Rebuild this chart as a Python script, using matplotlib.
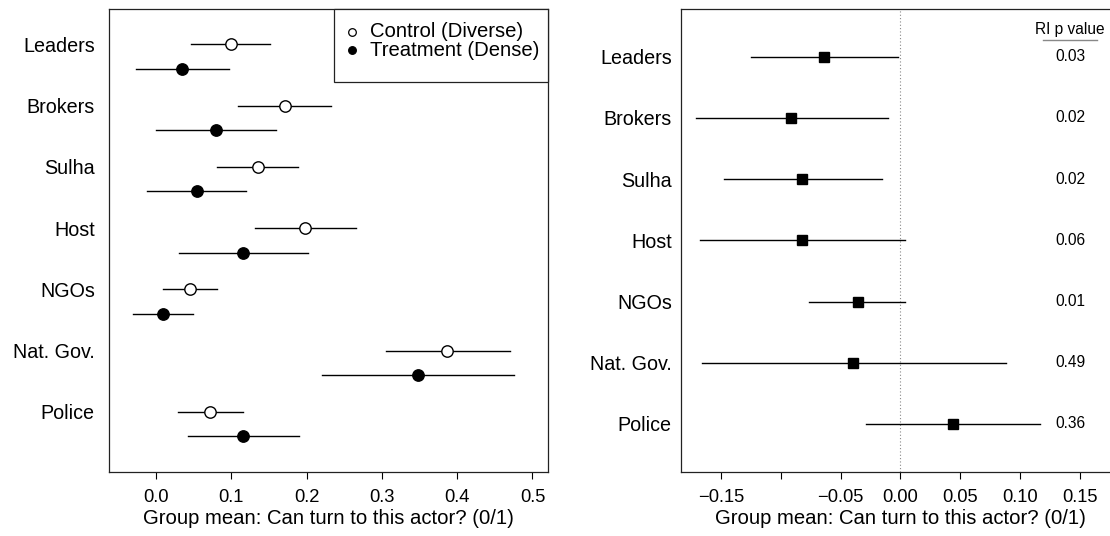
import matplotlib
matplotlib.use("Agg")
import matplotlib.pyplot as plt
from matplotlib.lines import Line2D
from matplotlib.patches import Rectangle
import numpy as np

plt.rcParams['font.family'] = ['Liberation Sans', 'DejaVu Sans']

categories = ["Leaders", "Brokers", "Sulha", "Host", "NGOs", "Nat. Gov.", "Police"]
ctrl_mean = [0.099, 0.171, 0.135, 0.198, 0.045, 0.387, 0.072]
ctrl_lo = [0.047, 0.109, 0.081, 0.131, 0.009, 0.305, 0.029]
ctrl_hi = [0.151, 0.233, 0.189, 0.266, 0.081, 0.470, 0.116]
treat_mean = [0.035, 0.080, 0.054, 0.116, 0.009, 0.348, 0.116]
treat_lo = [-0.026, 0.000, -0.012, 0.031, -0.031, 0.221, 0.043]
treat_hi = [0.097, 0.160, 0.120, 0.202, 0.049, 0.475, 0.190]
diff_mean = [-0.0635, -0.0911, -0.0819, -0.0819, -0.0356, -0.0393, 0.0443]
diff_lo = [-0.1248, -0.1708, -0.1474, -0.1677, -0.0761, -0.1660, -0.0287]
diff_hi = [-0.0017, -0.0105, -0.0156, 0.0039, 0.0039, 0.0881, 0.1170]
p_values = ["0.03", "0.02", "0.02", "0.06", "0.01", "0.49", "0.36"]
legend_labels = ["Control (Diverse)", "Treatment (Dense)"]
left_xticks = [0.0, 0.1, 0.2, 0.3, 0.4, 0.5]
left_xticklabels = ["0.0", "0.1", "0.2", "0.3", "0.4", "0.5"]
right_xticks = [-0.15, -0.10, -0.05, 0.0, 0.05, 0.10, 0.15]
right_xticklabels = ["\u22120.15", "", "\u22120.05", "0.00", "0.05", "0.10", "0.15"]
xlabel = "Group mean: Can turn to this actor? (0/1)"

W, H = 1110, 536
fig = plt.figure(figsize=(W / 100, H / 100), dpi=100)

def frac(x0, x1, ytop, ybot):
    return [x0 / W, 1 - ybot / H, (x1 - x0) / W, (ybot - ytop) / H]

def fx(px):
    return px / W

def fy(py):
    return 1 - py / H

ax1 = fig.add_axes(frac(109.3, 548.0, 9.0, 471.7))
ax2 = fig.add_axes(frac(681.0, 1119.6, 9.0, 471.7))

n = len(categories)
ypos = np.arange(n, 0, -1).astype(float)  # 7..1
off = 0.4

lw = 1.0
# Left panel
for i in range(n):
    ax1.plot([ctrl_lo[i], ctrl_hi[i]], [ypos[i], ypos[i]], color='black', lw=lw, zorder=2)
    ax1.plot([treat_lo[i], treat_hi[i]], [ypos[i] - off, ypos[i] - off], color='black', lw=lw, zorder=2)
ax1.plot(ctrl_mean, ypos, linestyle='none', marker='o', ms=8.2, mfc='white', mec='black', mew=1.0, zorder=3)
ax1.plot(treat_mean, ypos - off, linestyle='none', marker='o', ms=8.2, mfc='black', mec='black', mew=1.0, zorder=3)
ax1.set_xlim(-0.062, 0.5206)
ax1.set_ylim(0.02, 7.58)
ax1.set_xticks(left_xticks)
ax1.set_xticklabels(left_xticklabels)
ax1.set_yticks(ypos)
ax1.set_yticklabels(categories)
ax1.tick_params(axis='y', length=0, pad=10.4, labelsize=14.2)
ax1.tick_params(axis='x', length=5, width=0.8, pad=7.5, labelsize=13.2, direction='out')
ax1.set_xlabel(xlabel, fontsize=14.6, labelpad=2)
for s in ax1.spines.values():
    s.set_linewidth(0.9)
    s.set_color('#222222')

# Legend (boxed, top-right, flush with the axes corner)
fig.add_artist(Rectangle((fx(334.0), fy(81.7)), fx(548.0) - fx(334.0), fy(9.0) - fy(81.7),
                         transform=fig.transFigure, facecolor='white', edgecolor='#222222',
                         lw=0.9, zorder=5))
leg_rows = [31.7, 50.0]
leg_fill = ['white', 'black']
for row, fc, lab in zip(leg_rows, leg_fill, legend_labels):
    fig.add_artist(Line2D([fx(351.7)], [fy(row)], transform=fig.transFigure, linestyle='none',
                          marker='o', ms=5.5, mfc=fc, mec='black', mew=0.9, zorder=6))
    fig.text(fx(370.5), fy(row), lab, ha='left', va='center', fontsize=14.6, zorder=6)

# Right panel
ax2.axvline(0, color='#888888', lw=0.8, linestyle=(0, (1, 2)), zorder=1)
for i in range(n):
    ax2.plot([diff_lo[i], diff_hi[i]], [ypos[i], ypos[i]], color='black', lw=lw, zorder=2)
ax2.plot(diff_mean, ypos, linestyle='none', marker='s', ms=7.8, mfc='black', mec='black', zorder=3)
ax2.set_xlim(-0.1834, 0.1834)
ax2.set_ylim(0.22, 7.78)
ax2.set_xticks(right_xticks)
ax2.set_xticklabels(right_xticklabels)
ax2.set_yticks(ypos)
ax2.set_yticklabels(categories)
ax2.tick_params(axis='y', length=0, pad=6.6, labelsize=14.2)
ax2.tick_params(axis='x', length=5, width=0.8, pad=7.5, labelsize=13.2, direction='out')
ax2.set_xlabel(xlabel, fontsize=14.6, labelpad=2)
ax2.spines['right'].set_visible(False)
for s in ax2.spines.values():
    s.set_linewidth(0.9)
    s.set_color('#222222')

px = 0.1419
for i in range(n):
    ax2.text(px, ypos[i], p_values[i], ha='center', va='center', fontsize=11.2)
ax2.text(px, 7.45, "RI p value", ha='center', va='center', fontsize=11.2)
ax2.plot([0.119, 0.1647], [7.27, 7.27], color='#888888', lw=1.0)

fig.savefig("out.png", dpi=100)
